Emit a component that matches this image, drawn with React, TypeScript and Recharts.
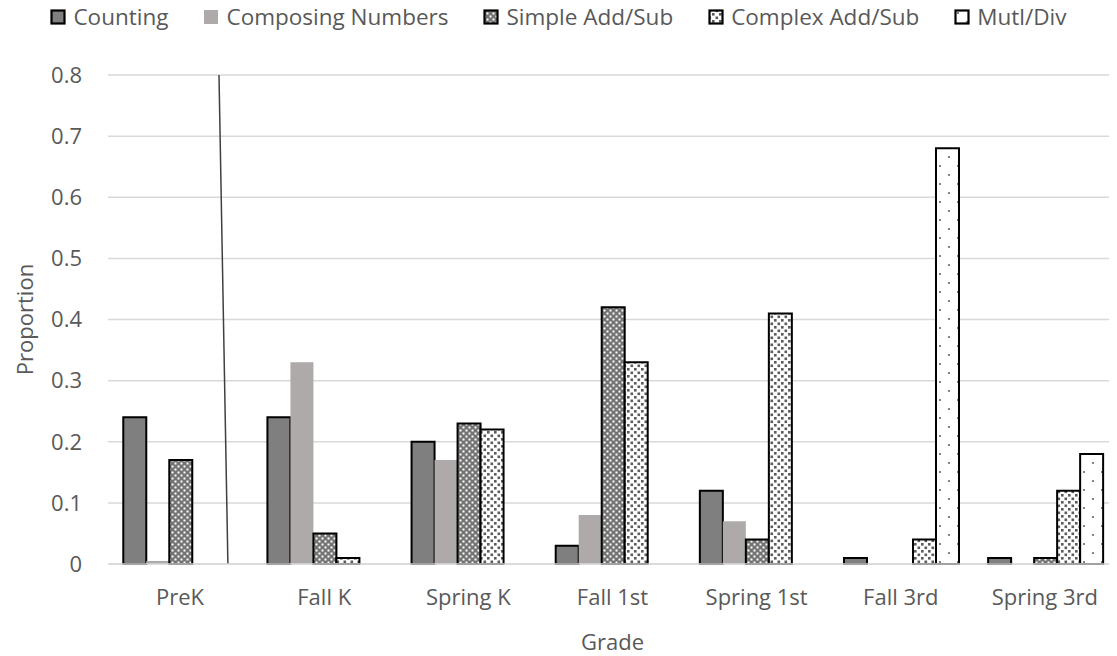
import React from 'react';
import { BarChart, Bar, XAxis, YAxis, CartesianGrid, Legend, ReferenceLine } from 'recharts';

const categories = ['PreK', 'Fall K', 'Spring K', 'Fall 1st', 'Spring 1st', 'Fall 3rd', 'Spring 3rd'];
const counting = [0.24, 0.24, 0.2, 0.03, 0.12, 0.01, 0.01];
const composingNumbers = [0.005, 0.33, 0.17, 0.08, 0.07, 0, 0];
const simpleAddSub = [0.17, 0.05, 0.23, 0.42, 0.04, 0, 0.01];
const complexAddSub = [0, 0.01, 0.22, 0.33, 0.41, 0.04, 0.12];
const multDiv = [0, 0, 0, 0, 0, 0.68, 0.18];
const yTicks = [0, 0.1, 0.2, 0.3, 0.4, 0.5, 0.6, 0.7, 0.8];
const separatorX = [0.66, 0.713];
const separatorY = [0.8, 0];

const data = categories.map((c, i) => ({
  grade: c,
  counting: counting[i],
  composing: composingNumbers[i],
  simple: simpleAddSub[i],
  complex: complexAddSub[i],
  mult: multDiv[i],
}));

const series = [
  { key: 'counting', name: 'Counting', fill: '#7f7f7f', stroke: '#000' },
  { key: 'composing', name: 'Composing Numbers', fill: '#aeaaaa', stroke: 'none' },
  { key: 'simple', name: 'Simple Add/Sub', fill: 'url(#patSimple)', stroke: '#000' },
  { key: 'complex', name: 'Complex Add/Sub', fill: 'url(#patComplex)', stroke: '#000' },
  { key: 'mult', name: 'Mutl/Div', fill: 'url(#patMult)', stroke: '#000' },
];

const FONT = "'Open Sans', sans-serif";
const TXT = '#595959';
const FS = 22;

const renderLegend = () => (
  <div
    style={{
      height: 75,
      display: 'flex',
      justifyContent: 'center',
      alignItems: 'flex-start',
      paddingTop: 2,
      boxSizing: 'border-box',
      fontFamily: FONT,
      fontSize: 22.5,
      color: TXT,
      gap: 35,
    }}
  >
    {series.map((s) => (
      <div key={s.key} style={{ display: 'flex', alignItems: 'center', gap: 7, lineHeight: '30px' }}>
        <svg width={16} height={16}>
          <rect
            x={s.stroke === 'none' ? 1 : 1.5}
            y={s.stroke === 'none' ? 1 : 1.5}
            width={s.stroke === 'none' ? 14 : 13}
            height={s.stroke === 'none' ? 14 : 13}
            fill={s.fill}
            stroke={s.stroke}
            strokeWidth={s.stroke === 'none' ? 0 : 2.2}
          />
        </svg>
        <span>{s.name}</span>
      </div>
    ))}
  </div>
);

export default function App() {
  return (
    <div style={{ marginLeft: -8, marginTop: -8, width: 1117, height: 656, position: 'relative' }}>
      <svg width={0} height={0} style={{ position: 'absolute' }}>
        <defs>
          <pattern id="patSimple" width={6} height={6} patternUnits="userSpaceOnUse">
            <rect width={6} height={6} fill="#737373" />
            <rect x={0.5} y={0.5} width={2} height={2} fill="#ffffff" />
            <rect x={3.5} y={3.5} width={2} height={2} fill="#ffffff" />
          </pattern>
          <pattern id="patComplex" width={7} height={7} patternUnits="userSpaceOnUse">
            <rect width={7} height={7} fill="#ffffff" />
            <rect x={0.5} y={0.5} width={2.6} height={2.6} fill="#5c5c5c" />
            <rect x={4} y={4} width={2.6} height={2.6} fill="#5c5c5c" />
          </pattern>
          <pattern id="patMult" width={18} height={18} patternUnits="userSpaceOnUse">
            <rect width={18} height={18} fill="#ffffff" />
            <circle cx={4} cy={4} r={1.1} fill="#666" />
            <circle cx={13} cy={13} r={1.1} fill="#666" />
          </pattern>
        </defs>
      </svg>
      <BarChart
        width={1117}
        height={656}
        data={data}
        margin={{ top: 0, right: 0, bottom: 0, left: 0 }}
        barGap={0}
        barCategoryGap="10.6%"
        style={{ fontFamily: FONT }}
      >
        <CartesianGrid vertical={false} stroke="#d9d9d9" strokeWidth={1.5} />
        <XAxis
          dataKey="grade"
          height={92}
          tickSize={0}
          tickLine={false}
          tickMargin={25}
          axisLine={{ stroke: '#d9d9d9', strokeWidth: 1.5 }}
          tick={{ fill: TXT, fontSize: FS, fontFamily: FONT }}
          interval={0}
          label={{ value: 'Grade', position: 'insideBottom', offset: 6, fill: TXT, fontSize: FS, fontFamily: FONT }}
        />
        <XAxis xAxisId="sep" type="number" domain={[0, 7]} allowDataOverflow hide />
        <YAxis
          width={108}
          domain={[0, 0.8]}
          ticks={yTicks}
          tickSize={0}
          tickLine={false}
          tickMargin={26}
          axisLine={false}
          tick={{ fill: TXT, fontSize: FS, fontFamily: FONT }}
          label={{ value: 'Proportion', angle: -90, position: 'insideLeft', offset: 25, fill: TXT, fontSize: FS, fontFamily: FONT, style: { textAnchor: 'middle' } }}
        />
        <Legend verticalAlign="top" content={renderLegend} wrapperStyle={{ top: 0, left: 0, width: 1117 }} />
        {series.map((s) => (
          <Bar
            key={s.key}
            dataKey={s.key}
            name={s.name}
            fill={s.fill}
            stroke={s.stroke}
            strokeWidth={s.stroke === 'none' ? 0 : 2}
            isAnimationActive={false}
          />
        ))}
        <ReferenceLine
          xAxisId="sep"
          segment={[
            { x: separatorX[0], y: separatorY[0] },
            { x: separatorX[1], y: separatorY[1] },
          ]}
          stroke="#404040"
          strokeWidth={1.5}
        />
      </BarChart>
    </div>
  );
}
